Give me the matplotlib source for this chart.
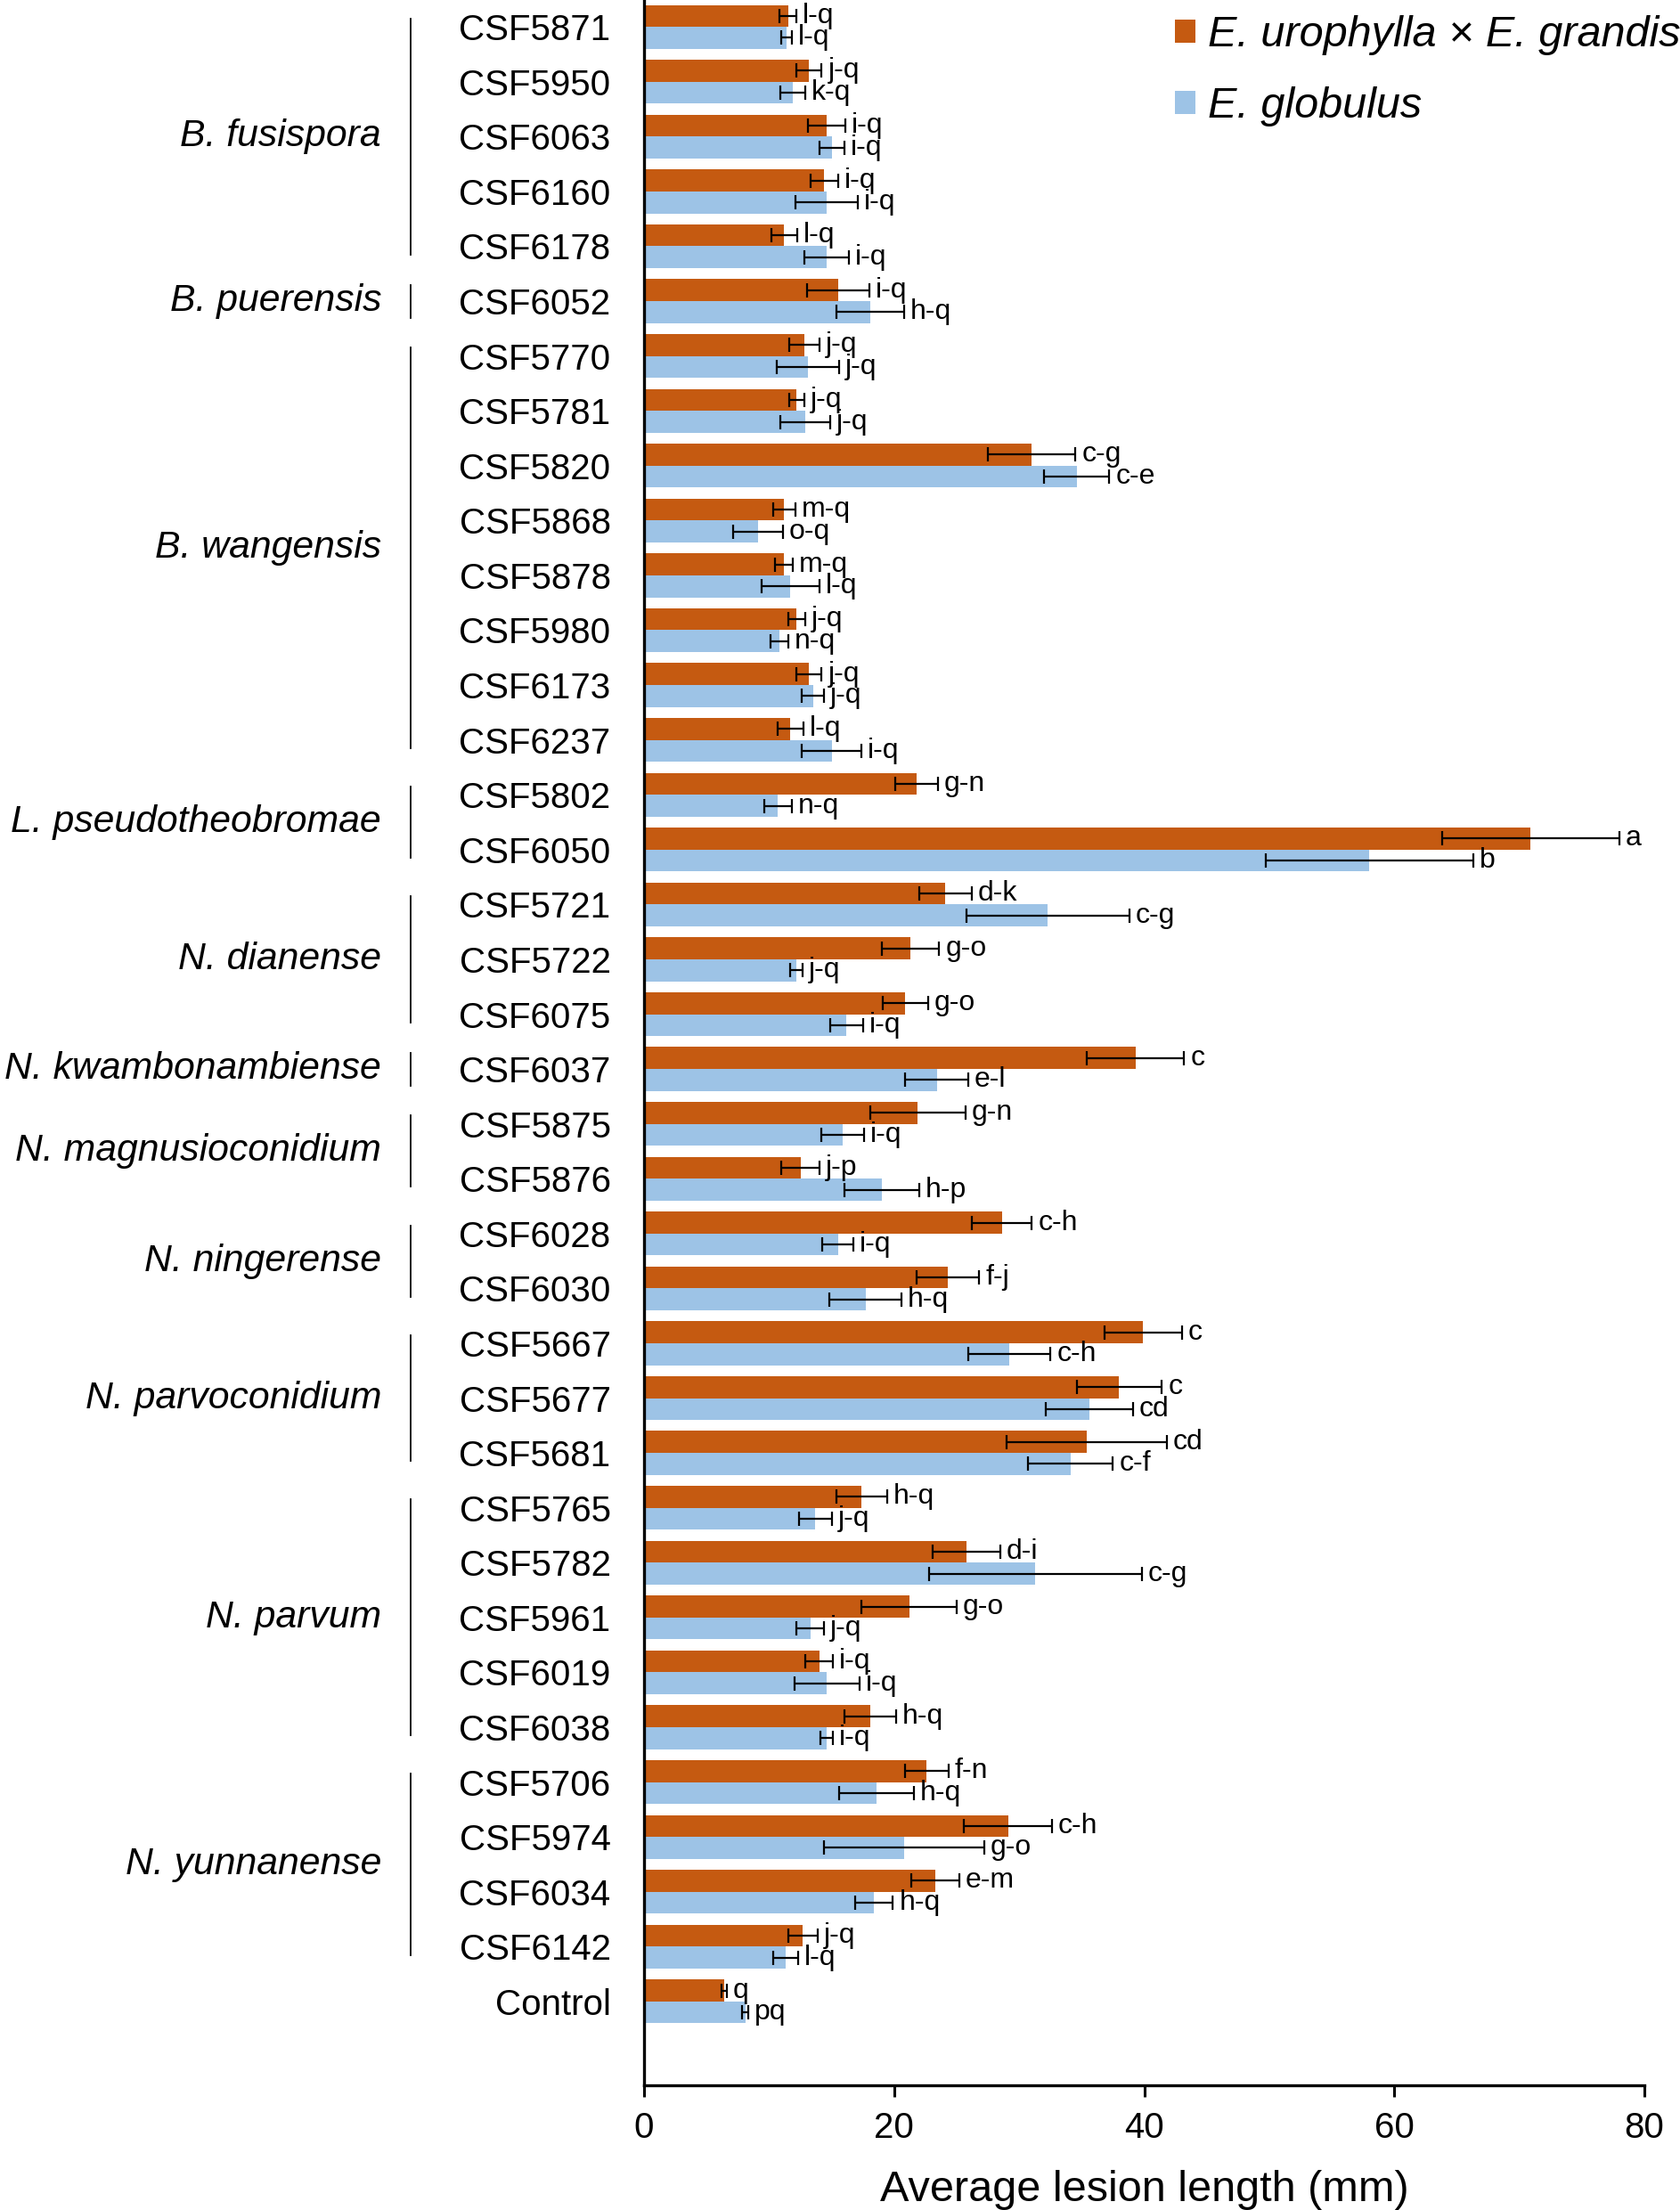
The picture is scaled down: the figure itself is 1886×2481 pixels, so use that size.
import matplotlib
matplotlib.use("Agg")
import matplotlib.pyplot as plt
import numpy as np

plt.rcParams['font.family'] = ['Liberation Sans', 'DejaVu Sans']

strains = ["CSF5871", "CSF5950", "CSF6063", "CSF6160", "CSF6178", "CSF6052",
           "CSF5770", "CSF5781", "CSF5820", "CSF5868", "CSF5878", "CSF5980",
           "CSF6173", "CSF6237", "CSF5802", "CSF6050", "CSF5721", "CSF5722",
           "CSF6075", "CSF6037", "CSF5875", "CSF5876", "CSF6028", "CSF6030",
           "CSF5667", "CSF5677", "CSF5681", "CSF5765", "CSF5782", "CSF5961",
           "CSF6019", "CSF6038", "CSF5706", "CSF5974", "CSF6034", "CSF6142",
           "Control"]

uro_mean = [11.5, 13.2, 14.6, 14.4, 11.2, 15.5, 12.8, 12.2, 31.0, 11.2, 11.2,
            12.2, 13.2, 11.7, 21.8, 70.9, 24.1, 21.3, 20.9, 39.3, 21.9, 12.5,
            28.6, 24.3, 39.9, 38.0, 35.4, 17.4, 25.8, 21.2, 14.0, 18.1, 22.6,
            29.1, 23.3, 12.7, 6.4]
uro_err = [0.7, 1.0, 1.5, 1.1, 1.05, 2.5, 1.2, 0.6, 3.5, 0.9, 0.7, 0.7, 1.0,
           1.05, 1.7, 7.1, 2.1, 2.3, 1.8, 3.9, 3.8, 1.5, 2.4, 2.5, 3.1, 3.4,
           6.4, 2.05, 2.7, 3.8, 1.1, 2.05, 1.75, 3.5, 1.9, 1.2, 0.2]
uro_letters = ["l-q", "j-q", "i-q", "i-q", "l-q", "i-q", "j-q", "j-q", "c-g",
               "m-q", "m-q", "j-q", "j-q", "l-q", "g-n", "a", "d-k", "g-o",
               "g-o", "c", "g-n", "j-p", "c-h", "f-j", "c", "c", "cd", "h-q",
               "d-i", "g-o", "i-q", "h-q", "f-n", "c-h", "e-m", "j-q", "q"]

glob_mean = [11.4, 11.9, 15.0, 14.6, 14.6, 18.1, 13.1, 12.9, 34.6, 9.1, 11.7,
             10.8, 13.5, 15.0, 10.7, 58.0, 32.3, 12.2, 16.2, 23.4, 15.9, 19.0,
             15.5, 17.7, 29.2, 35.6, 34.1, 13.7, 31.3, 13.3, 14.6, 14.6, 18.6,
             20.8, 18.4, 11.3, 8.1]
glob_err = [0.4, 1.0, 1.0, 2.5, 1.8, 2.7, 2.5, 2.0, 2.6, 2.0, 2.3, 0.7, 0.9,
            2.4, 1.1, 8.3, 6.5, 0.5, 1.3, 2.5, 1.7, 3.0, 1.25, 2.9, 3.3, 3.5,
            3.4, 1.3, 8.5, 1.1, 2.6, 0.5, 3.0, 6.4, 1.5, 1.0, 0.25]
glob_letters = ["l-q", "k-q", "i-q", "i-q", "i-q", "h-q", "j-q", "j-q", "c-e",
                "o-q", "l-q", "n-q", "j-q", "i-q", "n-q", "b", "c-g", "j-q",
                "i-q", "e-l", "i-q", "h-p", "i-q", "h-q", "c-h", "cd", "c-f",
                "j-q", "c-g", "j-q", "i-q", "i-q", "h-q", "g-o", "h-q", "l-q",
                "pq"]

group_names = ["B. fusispora", "B. puerensis", "B. wangensis",
               "L. pseudotheobromae", "N. dianense", "N. kwambonambiense",
               "N. magnusioconidium", "N. ningerense", "N. parvoconidium",
               "N. parvum", "N. yunnanense"]
group_first = [0, 5, 6, 14, 16, 19, 20, 22, 24, 27, 32]
group_last = [4, 5, 13, 15, 18, 19, 21, 23, 26, 31, 35]

series_names = ["E. urophylla × E. grandis", "E. globulus"]
ORANGE = "#C55A11"
BLUE = "#9DC3E6"

fig = plt.figure(figsize=(18.86, 24.81), dpi=100)
ax = fig.add_axes([0.3834, 0.0564, 0.5954, 0.9436])

y = np.arange(len(strains))
h = 0.4
ekw = dict(ecolor="black", elinewidth=1.6, capsize=6, capthick=1.6)
ax.barh(y - h / 2, uro_mean, height=h, color=ORANGE, xerr=uro_err,
        error_kw=ekw, label=series_names[0])
ax.barh(y + h / 2, glob_mean, height=h, color=BLUE, xerr=glob_err,
        error_kw=ekw, label=series_names[1])

for i in range(len(strains)):
    ax.annotate(uro_letters[i], (uro_mean[i] + uro_err[i], y[i] - h / 2),
                xytext=(5, 0), textcoords="offset points", va="center",
                ha="left", fontsize=23)
    ax.annotate(glob_letters[i], (glob_mean[i] + glob_err[i], y[i] + h / 2),
                xytext=(5, 0), textcoords="offset points", va="center",
                ha="left", fontsize=23)

ax.set_xlim(0, 80)
ax.set_ylim(37.53, -0.49)
ax.set_xticks([0, 20, 40, 60, 80])
ax.set_yticks(y)
ax.set_yticklabels(strains)
ax.tick_params(axis="y", length=0, pad=27, labelsize=29)
ax.tick_params(axis="x", length=9, width=2.2, pad=12, labelsize=29)
for s in ["top", "right"]:
    ax.spines[s].set_visible(False)
for s in ["left", "bottom"]:
    ax.spines[s].set_linewidth(2.4)
ax.set_xlabel("Average lesion length (mm)", fontsize=35, labelpad=20)

trans = ax.get_yaxis_transform()
for name, a, b in zip(group_names, group_first, group_last):
    if a == b:
        y0, y1 = a - 0.3, b + 0.3
    else:
        y0, y1 = a - 0.15, b + 0.15
    ax.plot([-0.2333, -0.2333], [y0, y1], transform=trans, color="black",
            lw=1.3, clip_on=False)
    ax.text(-0.2627, (a + b) / 2, name, transform=trans, ha="right",
            va="center", fontsize=30.8, style="italic")

leg = ax.legend(loc="upper left", bbox_to_anchor=(0.6994, 0.993),
                bbox_transform=fig.transFigure, frameon=False, fontsize=35,
                handlelength=0.47, handleheight=0.47, handletextpad=0.3,
                labelspacing=0.72, borderpad=0, borderaxespad=0)
for t in leg.get_texts():
    t.set_style("italic")

fig.savefig("out.png", dpi=100)
